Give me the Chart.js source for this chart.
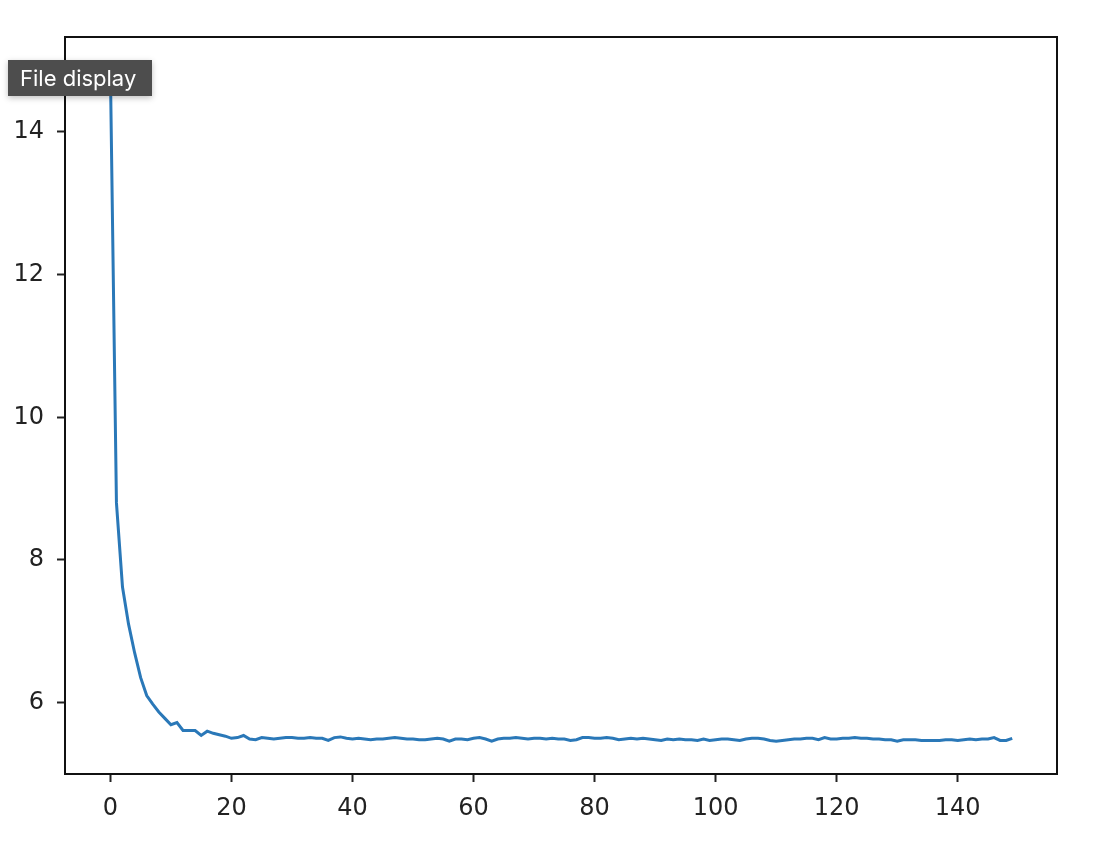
<!DOCTYPE html>
<html>
<head>
<meta charset="utf-8">
<script src="https://cdn.jsdelivr.net/npm/chart.js@4/dist/chart.umd.min.js"></script>
<style>
  html, body { margin: 0; padding: 0; background: #fff; }
  #wrap { position: relative; width: 1112px; height: 844px; }
  #tip {
    position: absolute; left: 8px; top: 60px; width: 144px; height: 36px;
    background: #4d4d4d; color: #fff; box-sizing: border-box;
    font-family: Inter, "Open Sans", sans-serif; font-size: 22px;
    line-height: 36px; padding-left: 12px; white-space: nowrap;
    box-shadow: 0 2px 6px rgba(0,0,0,0.25);
  }
</style>
</head>
<body>
<div id="wrap">
  <canvas id="chart" width="1112" height="844"></canvas>
  <div id="tip">File display</div>
</div>
<script>
// loss per epoch
const lossValues = [
  14.86, 8.80, 7.62, 7.10, 6.70, 6.35, 6.10, 5.98, 5.87, 5.78,
  5.69, 5.72, 5.61, 5.61, 5.61, 5.54, 5.60, 5.57, 5.55, 5.53,
  5.50, 5.51, 5.54, 5.49, 5.48, 5.51, 5.50, 5.49, 5.50, 5.51,
  5.51, 5.50, 5.50, 5.51, 5.50, 5.50, 5.47, 5.51, 5.52, 5.50,
  5.49, 5.50, 5.49, 5.48, 5.49, 5.49, 5.50, 5.51, 5.50, 5.49,
  5.49, 5.48, 5.48, 5.49, 5.50, 5.49, 5.46, 5.49, 5.49, 5.48,
  5.50, 5.51, 5.49, 5.46, 5.49, 5.50, 5.50, 5.51, 5.50, 5.49,
  5.50, 5.50, 5.49, 5.50, 5.49, 5.49, 5.47, 5.48, 5.51, 5.51,
  5.50, 5.50, 5.51, 5.50, 5.48, 5.49, 5.50, 5.49, 5.50, 5.49,
  5.48, 5.47, 5.49, 5.48, 5.49, 5.48, 5.48, 5.47, 5.49, 5.47,
  5.48, 5.49, 5.49, 5.48, 5.47, 5.49, 5.50, 5.50, 5.49, 5.47,
  5.46, 5.47, 5.48, 5.49, 5.49, 5.50, 5.50, 5.48, 5.51, 5.49,
  5.49, 5.50, 5.50, 5.51, 5.50, 5.50, 5.49, 5.49, 5.48, 5.48,
  5.46, 5.48, 5.48, 5.48, 5.47, 5.47, 5.47, 5.47, 5.48, 5.48,
  5.47, 5.48, 5.49, 5.48, 5.49, 5.49, 5.51, 5.47, 5.47, 5.50
];
const xTickValues = [0, 20, 40, 60, 80, 100, 120, 140];
const yTickValues = [6, 8, 10, 12, 14];

const points = lossValues.map((v, i) => ({ x: i, y: v }));

// matplotlib style frame around the plot area
const frame = {
  id: 'frame',
  afterDraw(chart) {
    const { ctx, chartArea: a } = chart;
    ctx.save();
    ctx.strokeStyle = '#111';
    ctx.lineWidth = 2;
    ctx.strokeRect(a.left, a.top, a.right - a.left, a.bottom - a.top);
    ctx.restore();
  }
};

const tickFont = { family: 'DejaVu Sans', size: 24 };

new Chart(document.getElementById('chart').getContext('2d'), {
  type: 'line',
  data: {
    datasets: [{
      data: points,
      borderColor: '#2a78b8',
      borderWidth: 3,
      pointRadius: 0,
      tension: 0,
      fill: false
    }]
  },
  options: {
    responsive: false,
    animation: false,
    layout: { padding: { left: 0, right: 55, top: 37, bottom: 0 } },
    plugins: { legend: { display: false }, tooltip: { enabled: false } },
    scales: {
      x: {
        type: 'linear',
        min: -7.5,
        max: 156.4,
        afterBuildTicks: s => { s.ticks = xTickValues.map(v => ({ value: v })); },
        afterFit: s => { s.height = 70; },
        grid: { drawOnChartArea: false, drawTicks: true, tickLength: 8, tickWidth: 2, tickColor: '#222' },
        border: { display: false },
        ticks: { font: tickFont, color: '#222', padding: 12, autoSkip: false, maxRotation: 0 }
      },
      y: {
        min: 5.0,
        max: 15.33,
        afterBuildTicks: s => { s.ticks = yTickValues.map(v => ({ value: v })); },
        afterFit: s => { s.width = 65; },
        grid: { drawOnChartArea: false, drawTicks: true, tickLength: 8, tickWidth: 2, tickColor: '#222' },
        border: { display: false },
        ticks: { font: tickFont, color: '#222', padding: 13 }
      }
    }
  },
  plugins: [frame]
});
</script>
</body>
</html>
